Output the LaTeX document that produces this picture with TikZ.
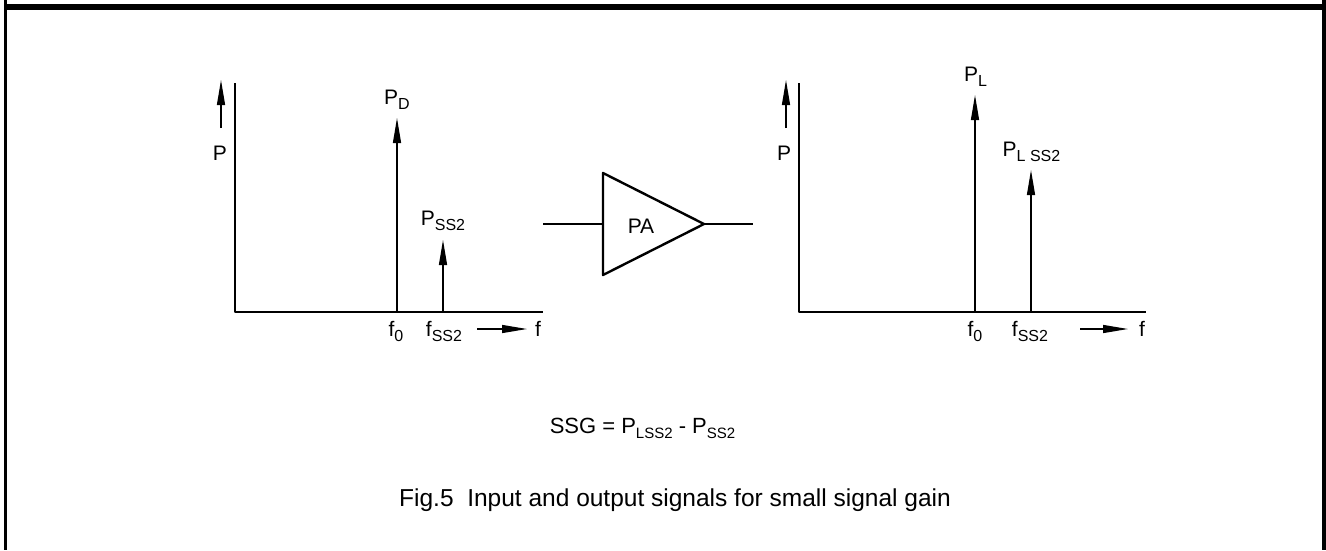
\documentclass[tikz,border=0pt]{standalone}
\usepackage{fontspec}
\setmainfont{Liberation Sans}
\usetikzlibrary{arrows.meta}
\newcommand{\lowidx}[2][16]{\raisebox{-5pt}{\fontsize{#1}{#1}\selectfont #2}}
\begin{document}
\begin{tikzpicture}[x=1pt,y=-1pt,line join=round,
    axis/.style={line width=1.3pt},
    spec/.style={line width=1.3pt,-{Triangle[length=25pt,width=8pt]}},
    lbl/.style={font=\fontsize{21}{24}\selectfont,inner sep=0pt,anchor=base}]
    \useasboundingbox (0,0) rectangle (1326,550);

    % rámeček
    \fill (4,0) rectangle (7,550);
    \fill (4,4) rectangle (1326,10);
    \fill (1322,0) rectangle (1326,550);

    % vstupní spektrum
    \coordinate (O1) at (235,312);
    \coordinate (Y1) at (235,83);
    \coordinate (X1) at (543,312);
    \coordinate (Pa1) at (221,128);
    \coordinate (Pb1) at (221,80);
    \coordinate (F1) at (397,312);
    \coordinate (Fp1) at (397,118);
    \coordinate (S1) at (443,312);
    \coordinate (Sp1) at (443,240);
    \coordinate (Fa1) at (477,329);
    \coordinate (Fb1) at (527,329);

    \draw[axis] (Y1)--(O1)--(X1);
    \draw[spec] (Pa1)--(Pb1);
    \draw[spec] (F1)--(Fp1);
    \draw[spec] (S1)--(Sp1);
    \draw[spec] (Fa1)--(Fb1);

    \node[lbl] (p1) at (220,160) {P};
    \node[lbl] (pd) at (397,104) {P\lowidx{D}};
    \node[lbl] (pss) at (443,225) {P\lowidx{SS2}};
    \node[lbl] (fo1) at (396,336) {f\lowidx{0}};
    \node[lbl] (fs1) at (444,336) {f\lowidx{SS2}};
    \node[lbl] (f1) at (538,336) {f};

    % zesilovač
    \coordinate (In) at (543,224);
    \coordinate (Ta) at (603,173);
    \coordinate (Tb) at (603,275);
    \coordinate (Tc) at (704,224);
    \coordinate (Out) at (753,224);

    \draw[axis] (In)--(603,224);
    \draw[line width=2.4pt] (Ta)--(Tc)--(Tb)--cycle;
    \draw[axis] (Tc)--(Out);
    \node[lbl] (pa) at (641,233) {PA};

    % výstupní spektrum
    \coordinate (O2) at (799,312);
    \coordinate (Y2) at (799,83);
    \coordinate (X2) at (1146,312);
    \coordinate (Pa2) at (786,128);
    \coordinate (Pb2) at (786,80);
    \coordinate (F2) at (975,312);
    \coordinate (Fp2) at (975,95);
    \coordinate (S2) at (1031,312);
    \coordinate (Sp2) at (1031,170);
    \coordinate (Fa2) at (1080,329);
    \coordinate (Fb2) at (1128,329);

    \draw[axis] (Y2)--(O2)--(X2);
    \draw[spec] (Pa2)--(Pb2);
    \draw[spec] (F2)--(Fp2);
    \draw[spec] (S2)--(Sp2);
    \draw[spec] (Fa2)--(Fb2);

    \node[lbl] (p2) at (784,160) {P};
    \node[lbl] (pl) at (975.5,81) {P\lowidx{L}};
    \node[lbl] (plss) at (1031.5,156) {P\lowidx{L SS2}};
    \node[lbl] (fo2) at (975,336) {f\lowidx{0}};
    \node[lbl] (fs2) at (1030,336) {f\lowidx{SS2}};
    \node[lbl] (f2) at (1142,336) {f};

    % vzorec a popisek
    \node[lbl,font=\fontsize{22}{26}\selectfont] (ssg) at (642.5,433)
        {SSG = P\lowidx[15]{LSS2} - P\lowidx[15]{SS2}};
    \node[lbl,font=\fontsize{24.5}{28}\selectfont] (cap) at (675,506)
        {Fig.5\ \ Input and output signals for small signal gain};
\end{tikzpicture}
\end{document}
